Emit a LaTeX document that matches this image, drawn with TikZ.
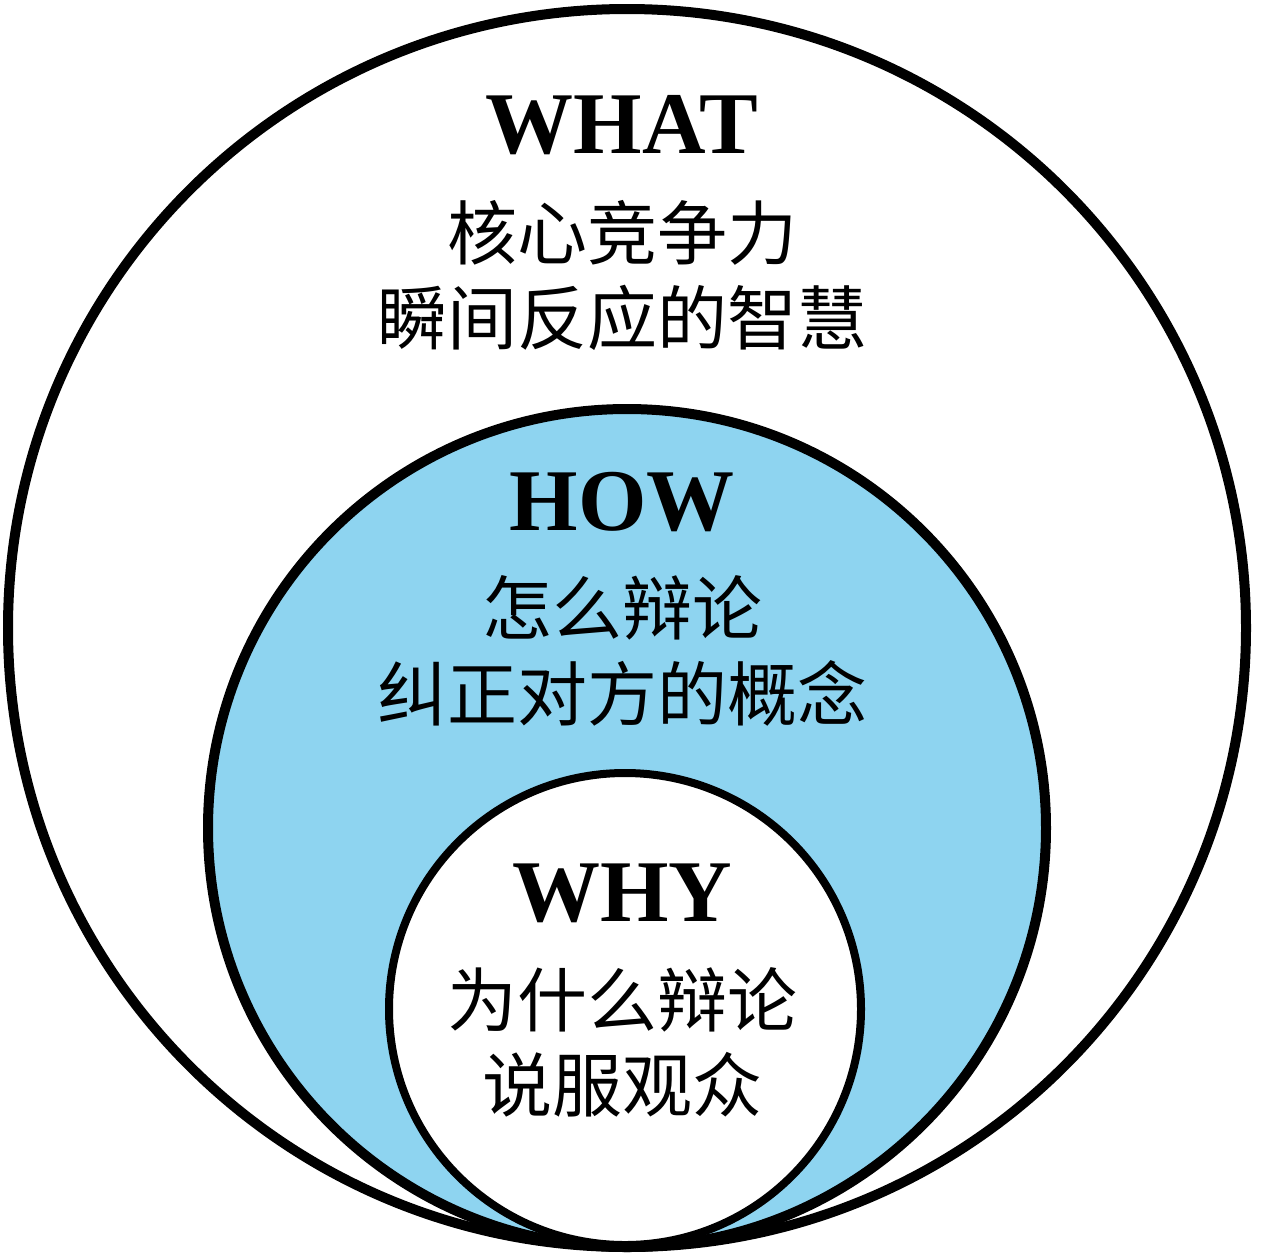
\documentclass[tikz,border=0pt]{standalone}
\usepackage{fontspec}
\setmainfont{Liberation Serif}
\newfontfamily\cjk{Noto Sans CJK SC}
\definecolor{howblue}{RGB}{142,212,240}
\tikzset{
	ring/.style={draw=black, line width=5pt},
	title/.style={font=\fontsize{44}{50}\selectfont\bfseries},
	line/.style={font=\cjk\fontsize{35}{42}\selectfont}
}
\begin{document}
\begin{tikzpicture}[x=0.5pt, y=-0.5pt]
		\useasboundingbox (0,0) rectangle (1280,1259);
		
		\draw[ring, fill=white] (627,628) circle[radius=619];
		\draw[ring, fill=howblue] (627,828) circle[radius=419];
		\draw[ring, line width=4pt, fill=white] (625,1009) circle[radius=236];
		
		\node[title] (what) at (622,125) {WHAT};
		\node[line] (what1) at (622,233) {核心竞争力};
		\node[line] (what2) at (622,318) {瞬间反应的智慧};
		
		\node[title] (how) at (622,502) {HOW};
		\node[line] (how1) at (622,608) {怎么辩论};
		\node[line] (how2) at (622,693) {纠正对方的概念};
		
		\node[title] (why) at (622,893) {WHY};
		\node[line] (why1) at (622,1000) {为什么辩论};
		\node[line] (why2) at (622,1085) {说服观众};
		
\end{tikzpicture}
\end{document}
